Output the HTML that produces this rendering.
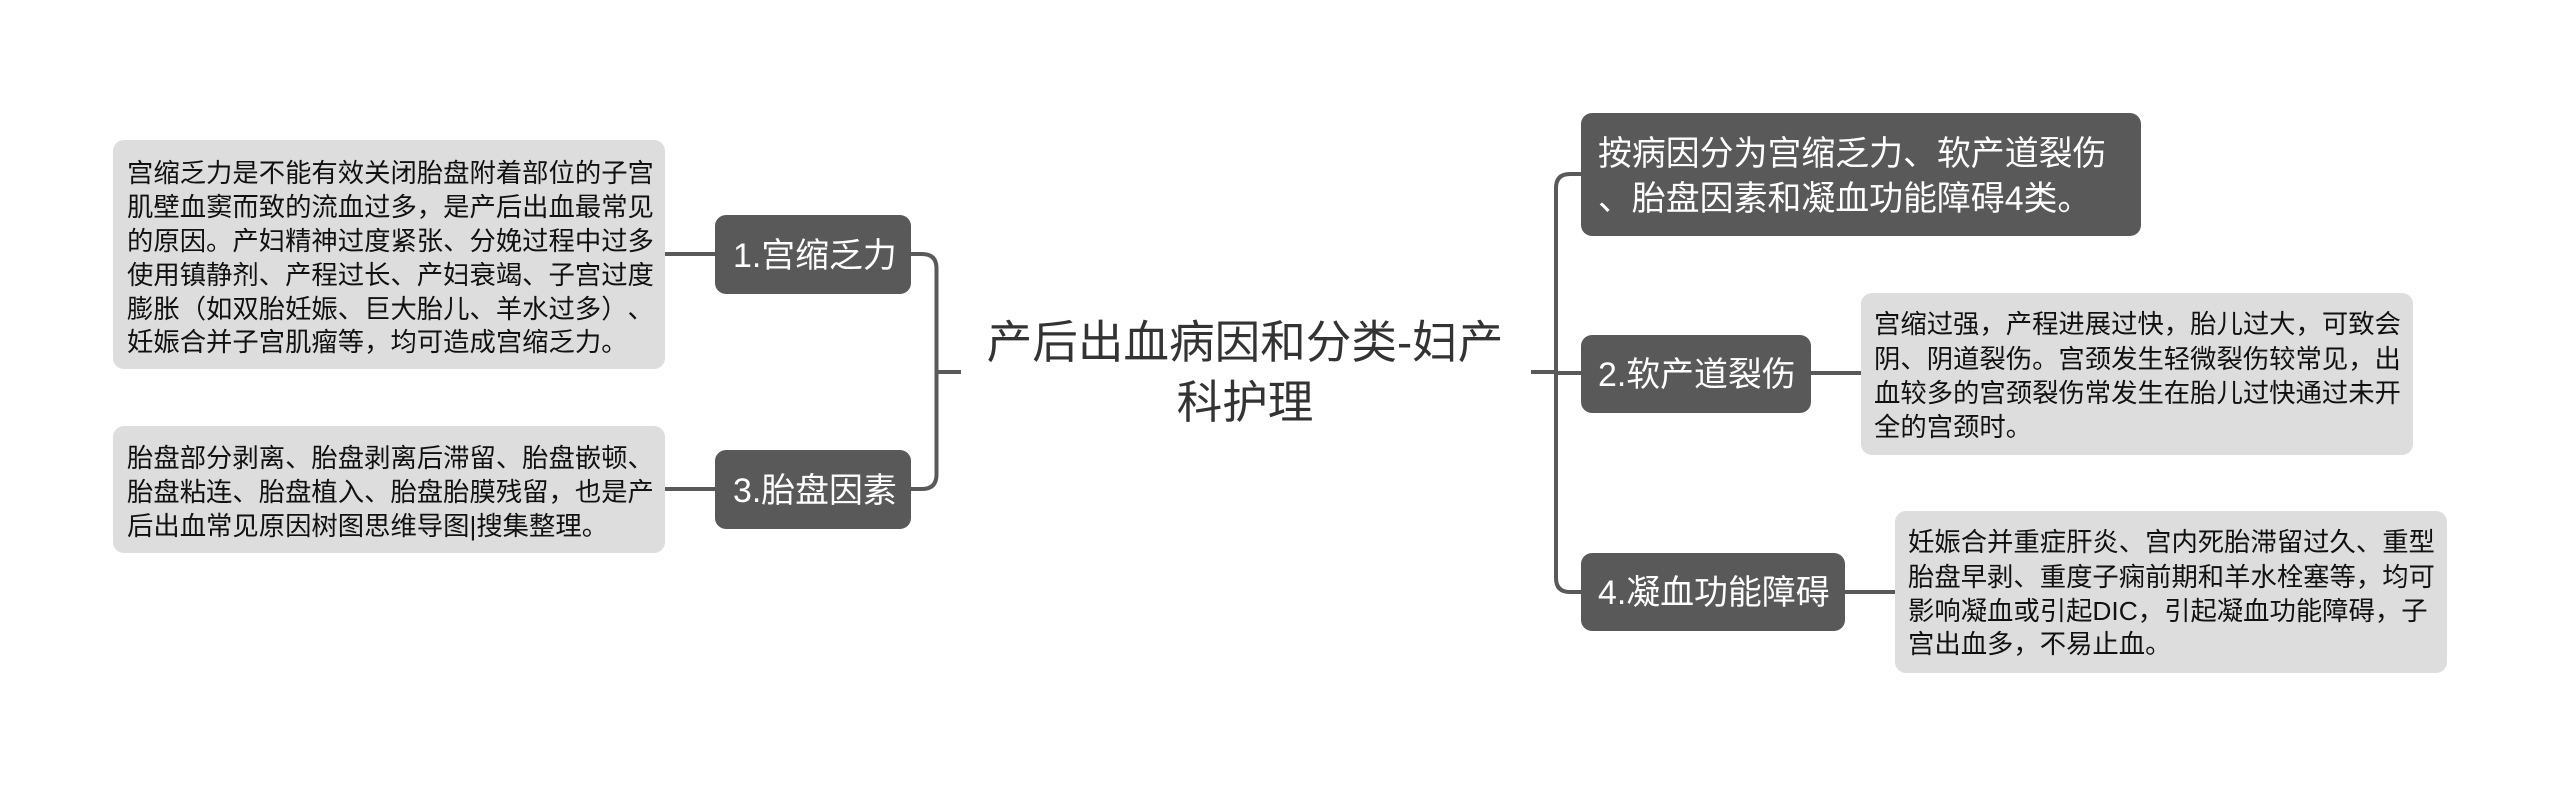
<!DOCTYPE html>
<html lang="zh">
<head>
<meta charset="utf-8">
<style>
html,body{margin:0;padding:0;background:#fff;width:2560px;height:786px;overflow:hidden}
svg{display:block}
text{font-family:"Liberation Sans","Noto Sans CJK SC",sans-serif;white-space:pre;text-spacing-trim:space-all;font-kerning:none}
.d{font-size:26.35px;fill:#111}
.n{font-size:33.9px;fill:#fff}
.t{font-size:45.6px;fill:#333;text-anchor:middle}
</style>
</head>
<body>
<svg width="2560" height="786" viewBox="0 0 2560 786" xmlns="http://www.w3.org/2000/svg">
<g fill="none" stroke="#595959" stroke-width="4">
<path d="M665 254H715"/>
<path d="M665 489H715"/>
<path d="M911 254H922Q936.500 254 936.500 268.500V474.500Q936.500 489 922 489H911"/>
<path d="M936.500 372H961"/>
<path d="M1531 372H1557"/>
<path d="M1581 174H1570Q1556 174 1556 188V578Q1556 592 1570 592H1581"/>
<path d="M1556 373H1581"/>
<path d="M1811 373H1861"/>
<path d="M1845 592H1895"/>
</g>
<g fill="#dddddd">
<rect x="113" y="140" width="552" height="229" rx="11"/>
<rect x="113" y="426" width="552" height="127" rx="11"/>
<rect x="1861" y="293" width="552" height="162" rx="11"/>
<rect x="1895" y="511" width="552" height="162" rx="11"/>
</g>
<g fill="#595959">
<rect x="715" y="215" width="196" height="79" rx="11"/>
<rect x="715" y="450" width="196" height="79" rx="11"/>
<rect x="1581" y="113" width="560" height="123" rx="11"/>
<rect x="1581" y="335" width="230" height="78" rx="11"/>
<rect x="1581" y="553" width="264" height="78" rx="11"/>
</g>
<g class="d">
<text class="d" x="127" y="182">宫缩乏力是不能有效关闭胎盘附着部位的子宫</text>
<text class="d" x="127" y="216">肌壁血窦而致的流血过多，是产后出血最常见</text>
<text class="d" x="127" y="250">的原因。产妇精神过度紧张、分娩过程中过多</text>
<text class="d" x="127" y="284">使用镇静剂、产程过长、产妇衰竭、子宫过度</text>
<text class="d" x="127" y="318">膨胀（如双胎妊娠、巨大胎儿、羊水过多）、</text>
<text class="d" x="127" y="351">妊娠合并子宫肌瘤等，均可造成宫缩乏力。</text>
<text class="d" x="127" y="467">胎盘部分剥离、胎盘剥离后滞留、胎盘嵌顿、</text>
<text class="d" x="127" y="501">胎盘粘连、胎盘植入、胎盘胎膜残留，也是产</text>
<text class="d" x="127" y="535">后出血常见原因树图思维导图|搜集整理。</text>
<text class="d" x="1874" y="333">宫缩过强，产程进展过快，胎儿过大，可致会</text>
<text class="d" x="1874" y="368">阴、阴道裂伤。宫颈发生轻微裂伤较常见，出</text>
<text class="d" x="1874" y="402">血较多的宫颈裂伤常发生在胎儿过快通过未开</text>
<text class="d" x="1874" y="436">全的宫颈时。</text>
<text class="d" x="1908" y="551">妊娠合并重症肝炎、宫内死胎滞留过久、重型</text>
<text class="d" x="1908" y="586">胎盘早剥、重度子痫前期和羊水栓塞等，均可</text>
<text class="d" x="1908" y="620">影响凝血或引起DIC，引起凝血功能障碍，子</text>
<text class="d" x="1908" y="653">宫出血多，不易止血。</text>
</g>
<g>
<text class="n" x="733" y="267">1.宫缩乏力</text>
<text class="n" x="733" y="502">3.胎盘因素</text>
<text class="n" x="1598" y="165">按病因分为宫缩乏力、软产道裂伤</text>
<text class="n" x="1598" y="210">、胎盘因素和凝血功能障碍4类。</text>
<text class="n" x="1598" y="386">2.软产道裂伤</text>
<text class="n" x="1598" y="604">4.凝血功能障碍</text>
</g>
<text class="t" x="1245" y="358">产后出血病因和分类-妇产</text>
<text class="t" x="1245" y="418">科护理</text>
</svg>
</body>
</html>
